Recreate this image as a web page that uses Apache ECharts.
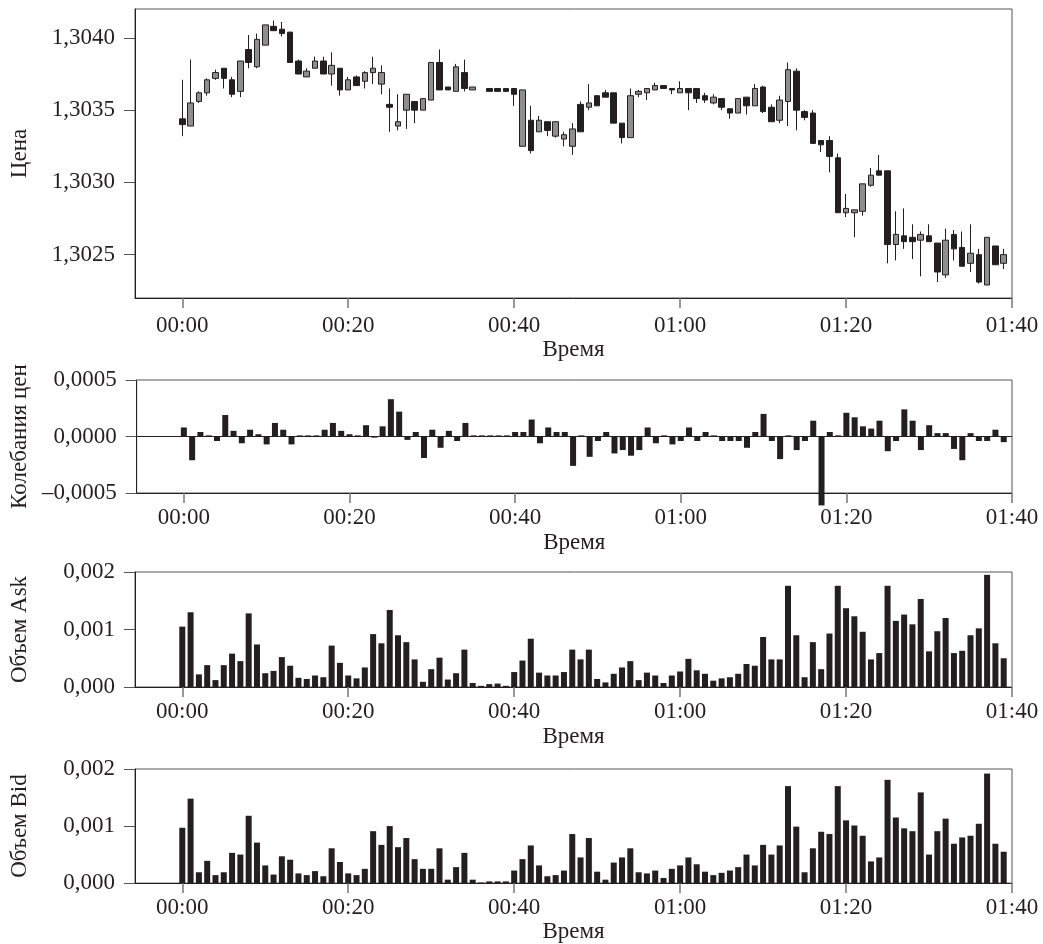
<!DOCTYPE html>
<html>
<head>
<meta charset="utf-8">
<script src="https://cdn.jsdelivr.net/npm/echarts@6/dist/echarts.min.js"></script>
<style>
html, body { margin: 0; padding: 0; background: #fff; }
#chart { width: 1043px; height: 944px; }
</style>
</head>
<body>
<div id="chart"></div>
<script>
// минуты от 00:00, свеча на каждую минуту (00:36 пропущена)
var openP = [1.30344,1.30339,1.30356,1.30362,1.30372,1.30379,1.30371,1.30363,1.30392,1.30380,
  1.30395,1.30408,1.30406,1.30404,1.30384,1.30373,1.30379,1.30384,1.30375,1.30379,
  1.30364,1.30373,1.30370,1.30376,1.30368,1.30354,1.30339,1.30350,1.30356,1.30350,
  1.30357,1.30383,1.30366,1.30363,1.30376,1.30364,null,1.30365,1.30365,1.30365,
  1.30365,1.30325,1.30343,1.30335,1.30342,1.30332,1.30330,1.30325,1.30354,1.30352,
  1.30360,1.30362,1.30362,1.30341,1.30331,1.30361,1.30362,1.30364,1.30367,1.30365,
  1.30362,1.30365,1.30365,1.30360,1.30355,1.30358,1.30351,1.30348,1.30359,1.30353,
  1.30366,1.30352,1.30343,1.30356,1.30377,1.30349,1.30348,1.30329,1.30329,1.30317,
  1.30279,1.30279,1.30280,1.30298,1.30308,1.30308,1.30257,1.30263,1.30262,1.30260,
  1.30263,1.30258,1.30236,1.30264,1.30255,1.30244,1.30250,1.30229,1.30256,1.30244];
var closeP = [1.30340,1.30355,1.30362,1.30371,1.30376,1.30372,1.30361,1.30384,1.30383,1.30399,
  1.30409,1.30405,1.30403,1.30383,1.30375,1.30377,1.30384,1.30375,1.30381,1.30364,
  1.30371,1.30367,1.30376,1.30379,1.30376,1.30352,1.30342,1.30361,1.30350,1.30358,
  1.30383,1.30364,1.30364,1.30380,1.30365,1.30366,null,1.30363,1.30363,1.30363,
  1.30361,1.30364,1.30322,1.30343,1.30336,1.30342,1.30333,1.30337,1.30335,1.30355,
  1.30353,1.30359,1.30341,1.30331,1.30360,1.30363,1.30365,1.30367,1.30365,1.30364,
  1.30365,1.30362,1.30358,1.30357,1.30359,1.30352,1.30348,1.30358,1.30353,1.30365,
  1.30349,1.30342,1.30357,1.30378,1.30350,1.30345,1.30327,1.30326,1.30318,1.30279,
  1.30282,1.30281,1.30299,1.30305,1.30305,1.30257,1.30264,1.30259,1.30259,1.30264,
  1.30259,1.30238,1.30260,1.30254,1.30242,1.30251,1.30231,1.30262,1.30243,1.30250];
var lowP = [1.30332,1.30339,1.30355,1.30360,1.30371,1.30365,1.30359,1.30359,1.30379,1.30379,
  1.30395,1.30405,1.30401,1.30383,1.30375,1.30373,1.30379,1.30375,1.30367,1.30360,
  1.30364,1.30367,1.30365,1.30368,1.30361,1.30335,1.30336,1.30337,1.30341,1.30350,
  1.30357,1.30364,1.30364,1.30363,1.30363,1.30364,null,1.30363,1.30363,1.30363,
  1.30353,1.30325,1.30320,1.30335,1.30332,1.30331,1.30325,1.30319,1.30335,1.30350,
  1.30353,1.30359,1.30341,1.30327,1.30331,1.30359,1.30357,1.30364,1.30365,1.30361,
  1.30362,1.30350,1.30355,1.30355,1.30354,1.30350,1.30344,1.30348,1.30347,1.30353,
  1.30348,1.30342,1.30341,1.30339,1.30336,1.30343,1.30327,1.30321,1.30307,1.30279,
  1.30276,1.30262,1.30277,1.30297,1.30305,1.30244,1.30246,1.30254,1.30247,1.30235,
  1.30259,1.30231,1.30234,1.30246,1.30242,1.30238,1.30230,1.30229,1.30243,1.30240];
var highP = [1.30371,1.30385,1.30363,1.30372,1.30378,1.30379,1.30373,1.30384,1.30402,1.30403,
  1.30409,1.30412,1.30411,1.30404,1.30385,1.30379,1.30387,1.30387,1.30390,1.30379,
  1.30373,1.30374,1.30377,1.30387,1.30381,1.30365,1.30361,1.30361,1.30356,1.30358,
  1.30383,1.30392,1.30366,1.30382,1.30385,1.30366,null,1.30365,1.30365,1.30365,
  1.30365,1.30364,1.30353,1.30346,1.30342,1.30342,1.30335,1.30341,1.30356,1.30368,
  1.30360,1.30364,1.30362,1.30341,1.30365,1.30364,1.30365,1.30369,1.30367,1.30365,
  1.30370,1.30365,1.30365,1.30362,1.30361,1.30358,1.30351,1.30358,1.30359,1.30368,
  1.30367,1.30354,1.30360,1.30383,1.30379,1.30350,1.30350,1.30329,1.30332,1.30320,
  1.30292,1.30281,1.30299,1.30310,1.30319,1.30308,1.30280,1.30282,1.30271,1.30266,
  1.30271,1.30258,1.30268,1.30267,1.30266,1.30271,1.30254,1.30262,1.30256,1.30254];

// колебания цен
var priceChange = [0.00008,-0.00021,0.00004,0.00001,-0.00004,0.00019,0.00005,-0.00006,0.00006,0.00002,
  -0.00007,0.00012,0.00006,-0.00007,0.00001,0.00001,0.00001,0.00006,0.00012,0.00005,
  0.00002,0.00001,0.00010,-0.00001,0.00009,0.00033,0.00022,-0.00003,0.00004,-0.00019,
  0.00006,-0.00010,0.00005,-0.00004,0.00012,0.00001,0.00001,0.00001,0.00001,0.00001,
  0.00004,0.00004,0.00015,-0.00006,0.00008,0.00004,0.00004,-0.00026,0.00001,-0.00018,
  -0.00004,0.00004,-0.00015,-0.00012,-0.00017,-0.00012,0.00008,-0.00006,0.00001,-0.00007,
  -0.00004,0.00008,-0.00004,0.00004,0.00001,-0.00004,-0.00004,-0.00004,-0.00010,0.00004,
  0.00020,-0.00004,-0.00020,0.00001,-0.00012,-0.00004,0.00014,-0.00061,0.00004,0.00001,
  0.00021,0.00017,0.00009,0.00007,0.00014,-0.00013,-0.00004,0.00024,0.00014,-0.00012,
  0.00010,0.00003,0.00003,-0.00011,-0.00021,0.00003,-0.00004,-0.00004,0.00006,-0.00005];

// объемы, в тысячных
var askVolK = [1.05,1.30,0.22,0.38,0.12,0.38,0.58,0.45,1.28,0.74,
  0.24,0.28,0.52,0.37,0.16,0.14,0.20,0.17,0.72,0.42,
  0.20,0.15,0.34,0.92,0.76,1.34,0.90,0.78,0.48,0.09,
  0.31,0.51,0.13,0.24,0.65,0.07,0.02,0.05,0.06,0.02,
  0.26,0.46,0.84,0.25,0.20,0.20,0.26,0.65,0.48,0.65,
  0.14,0.08,0.23,0.34,0.45,0.12,0.25,0.20,0.07,0.20,
  0.27,0.49,0.29,0.23,0.11,0.15,0.17,0.23,0.40,0.37,
  0.87,0.48,0.48,1.76,0.90,0.17,0.78,0.31,0.93,1.76,
  1.37,1.23,0.96,0.48,0.59,1.76,1.15,1.26,1.09,1.53,
  0.62,0.97,1.20,0.59,0.63,0.90,1.02,1.95,0.76,0.50];
var bidVolK = [0.97,1.48,0.19,0.39,0.14,0.19,0.53,0.50,1.18,0.71,
  0.31,0.15,0.47,0.41,0.17,0.14,0.21,0.12,0.61,0.37,
  0.17,0.14,0.25,0.91,0.67,1.00,0.63,0.79,0.42,0.25,
  0.25,0.61,0.06,0.28,0.53,0.06,0.01,0.03,0.03,0.03,
  0.22,0.42,0.66,0.31,0.12,0.14,0.22,0.86,0.45,0.79,
  0.20,0.06,0.36,0.45,0.61,0.19,0.17,0.22,0.09,0.25,
  0.31,0.45,0.33,0.20,0.14,0.18,0.22,0.28,0.50,0.31,
  0.67,0.50,0.66,1.70,0.99,0.19,0.61,0.90,0.86,1.70,
  1.10,1.01,0.83,0.38,0.45,1.81,1.15,0.96,0.91,1.59,
  0.50,0.91,1.13,0.69,0.80,0.83,1.04,1.92,0.69,0.55];

var xTicks = [0, 20, 40, 60, 80, 100];
var priceTicks = [1.3025, 1.3030, 1.3035, 1.3040];

var FONT = "'Liberation Serif', 'Times New Roman', serif";
var INK = "#231f20";

function fmtTime(v) {
    var h = Math.floor(v / 60), m = Math.round(v % 60);
    return (h < 10 ? "0" : "") + h + ":" + (m < 10 ? "0" : "") + m;
}
function fmtComma(v, d) {
    var s = Math.abs(v).toFixed(d).replace(".", ",");
    return v < 0 ? "\u2013" + s : s;
}

let candles = [], changeData = [], askData = [], bidData = [];
for (let i = 0; i < openP.length; i++) {
    if (openP[i] != null) {
        candles.push([i, openP[i], closeP[i], lowP[i], highP[i]]);
    }
    changeData.push([i, priceChange[i]]);
    askData.push([i, askVolK[i]]);
    bidData.push([i, bidVolK[i]]);
}

const textStyle = { color: INK, fontFamily: FONT, fontSize: 23 };

function makeX(idx, margin, gap) {
    return {
        type: "value", gridIndex: idx, min: -5.7, max: 100,
        axisLine: { show: true, onZero: false, lineStyle: { color: INK, width: 1 } },
        axisTick: { show: true, customValues: xTicks, length: 10, lineStyle: { color: "#777", width: 1.5 } },
        axisLabel: Object.assign({ customValues: xTicks, formatter: fmtTime, margin: margin }, textStyle),
        splitLine: { show: false },
        name: "Время", nameLocation: "middle", nameGap: gap,
        nameTextStyle: textStyle
    };
}
function makeY(idx, name, extra) {
    return Object.assign({
        type: "value", gridIndex: idx,
        axisLine: { show: true, onZero: false, lineStyle: { color: INK, width: 1 } },
        axisTick: { show: true, length: 11, lineStyle: { color: "#555" } },
        splitLine: { show: false },
        name: name, nameLocation: "middle", nameGap: 104,
        nameTextStyle: textStyle
    }, extra);
}

let chart = echarts.init(document.getElementById("chart"));
const border = { show: true, borderColor: "#555", borderWidth: 1, left: 134, right: 31 };

let option = {
    animation: false,
    backgroundColor: "#fff",
    grid: [
        Object.assign({ top: 9, bottom: 646 }, border),
        Object.assign({ top: 380, bottom: 451 }, border),
        Object.assign({ top: 572, bottom: 257 }, border),
        Object.assign({ top: 769, bottom: 58 }, border)
    ],
    xAxis: [makeX(0, 16, 40), makeX(1, 13, 38), makeX(2, 13, 38), makeX(3, 13, 35)],
    yAxis: [
        makeY(0, "Цена", {
            min: 1.3022, max: 1.3042,
            axisTick: { show: true, customValues: priceTicks, length: 11, lineStyle: { color: "#555" } },
            axisLabel: Object.assign({ customValues: priceTicks, margin: 20, formatter: v => fmtComma(v, 4) }, textStyle)
        }),
        makeY(1, "Колебания цен", {
            min: -0.0005, max: 0.0005, interval: 0.0005,
            axisLabel: Object.assign({ margin: 20, formatter: v => fmtComma(Math.abs(v) < 1e-9 ? 0 : v, 4) }, textStyle)
        }),
        makeY(2, "Объем Ask", {
            min: 0, max: 2, interval: 1,
            axisLabel: Object.assign({ margin: 20, formatter: v => fmtComma(v / 1000, 3) }, textStyle)
        }),
        makeY(3, "Объем Bid", {
            min: 0, max: 2, interval: 1,
            axisLabel: Object.assign({ margin: 20, formatter: v => fmtComma(v / 1000, 3) }, textStyle)
        })
    ],
    series: [
        {
            type: "candlestick", xAxisIndex: 0, yAxisIndex: 0,
            barWidth: 6,
            data: candles,
            itemStyle: {
                color: "#8e8e8e", color0: INK,
                borderColor: INK, borderColor0: INK, borderWidth: 1
            }
        },
        {
            type: "bar", xAxisIndex: 1, yAxisIndex: 1,
            barWidth: 6, clip: false,
            data: changeData,
            itemStyle: { color: INK },
            markLine: {
                silent: true, symbol: "none", label: { show: false },
                lineStyle: { color: INK, width: 1, type: "solid" },
                data: [{ yAxis: 0 }]
            }
        },
        {
            type: "bar", xAxisIndex: 2, yAxisIndex: 2,
            barWidth: 6, data: askData,
            itemStyle: { color: INK }
        },
        {
            type: "bar", xAxisIndex: 3, yAxisIndex: 3,
            barWidth: 6, data: bidData,
            itemStyle: { color: INK }
        }
    ]
};
chart.setOption(option);
</script>
</body>
</html>
